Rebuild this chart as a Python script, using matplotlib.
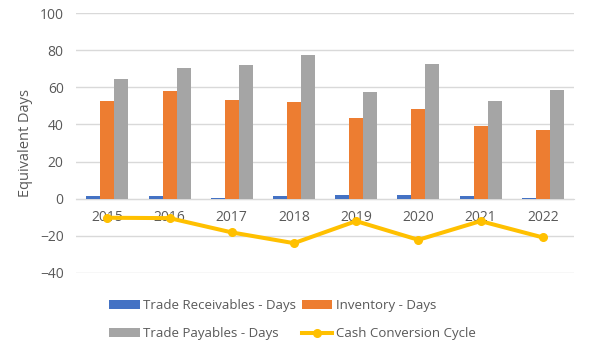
import matplotlib.pyplot as plt
import numpy as np

plt.rcParams['font.family'] = ['Open Sans', 'DejaVu Sans']

# Working capital metrics per year
years = ['2015', '2016', '2017', '2018', '2019', '2020', '2021', '2022']
receivable_days = [1.2, 1.2, 0.6, 1.2, 1.8, 1.8, 1.2, 0.6]
inventory_days = [52.6, 58.0, 53.1, 52.0, 43.4, 48.3, 39.1, 36.9]
payable_days = [64.5, 70.4, 72.1, 77.5, 57.5, 72.6, 52.6, 58.5]
cash_cycle = [-10.3, -10.5, -18.2, -24.0, -12.1, -22.2, -12.1, -20.9]

text_col = '#595959'
grid_col = '#D9D9D9'

fig = plt.figure(figsize=(5.91, 3.48), dpi=100)
ax = fig.add_axes([0.129, 0.216, 0.842, 0.746])

x = np.arange(len(years))
w = 0.225
b1 = ax.bar(x - w, receivable_days, w, color='#4472C4', label='Trade Receivables - Days', zorder=3)
b2 = ax.bar(x, inventory_days, w, color='#ED7D31', label='Inventory - Days', zorder=3)
b3 = ax.bar(x + w, payable_days, w, color='#A5A5A5', label='Trade Payables - Days', zorder=3)
ln, = ax.plot(x, cash_cycle, color='#FFC000', lw=2.9, marker='o', ms=5.5,
              label='Cash Conversion Cycle', zorder=4)

ax.set_xlim(-0.5, len(years) - 0.5)
ax.set_ylim(-40, 100)
ax.set_yticks(range(-40, 101, 20))
ax.grid(axis='y', color=grid_col, lw=1, zorder=0)

for side in ['top', 'right', 'left']:
    ax.spines[side].set_visible(False)
ax.spines['bottom'].set_position(('data', 0))
ax.spines['bottom'].set_color(grid_col)

ax.set_xticks(x)
ax.set_xticklabels(years)
ax.tick_params(axis='x', length=0, pad=8.5, labelsize=10, labelcolor=text_col)
ax.tick_params(axis='y', length=0, pad=9, labelsize=10, labelcolor=text_col)
ax.set_ylabel('Equivalent Days', fontsize=10.5, color=text_col, labelpad=5)

# Legend filled row by row: two entries per row
fig.legend([b1, b3, b2, ln],
           ['Trade Receivables - Days', 'Trade Payables - Days',
            'Inventory - Days', 'Cash Conversion Cycle'],
           ncol=2, loc='center', bbox_to_anchor=(0.495, 0.081), frameon=False,
           fontsize=9.5, labelcolor=text_col, handlelength=2.3, handletextpad=0.3,
           columnspacing=0.4, labelspacing=1.15)

fig.savefig('out.png', dpi=100, facecolor='white')
